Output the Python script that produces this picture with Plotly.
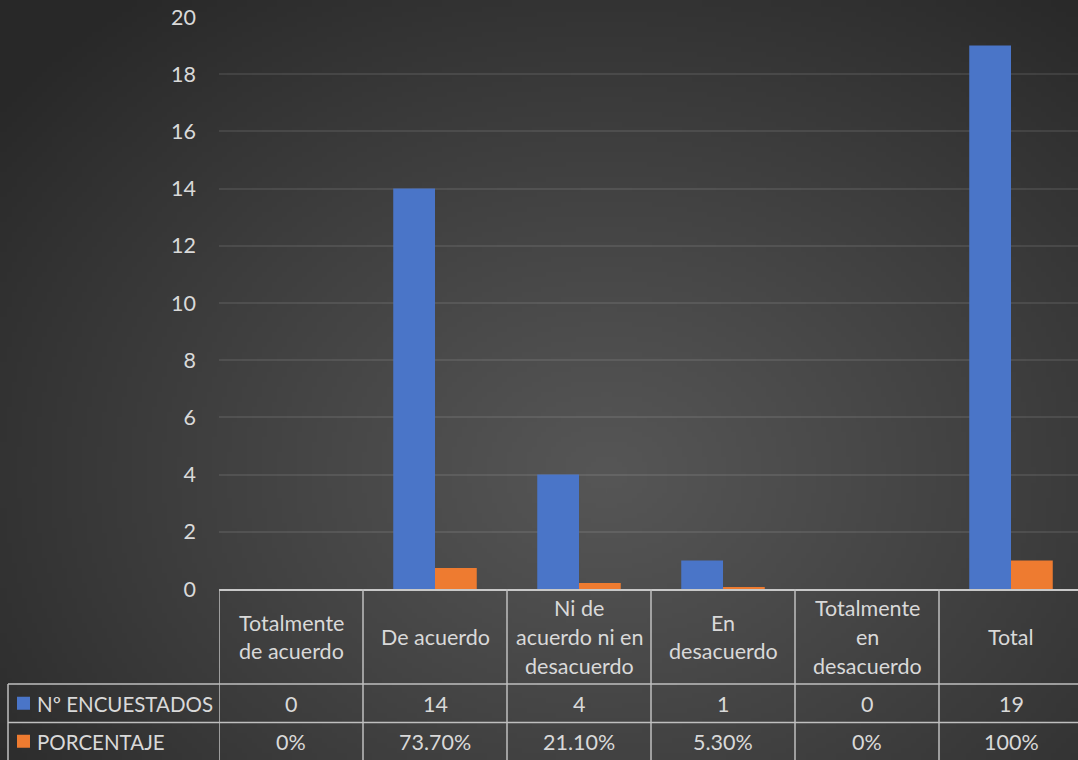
import base64, struct, zlib
import numpy as np
import plotly.graph_objects as go

# ---------------- data ----------------
categories = ["Totalmente<br>de acuerdo", "De acuerdo", "Ni de<br>acuerdo ni en<br>desacuerdo",
              "En<br>desacuerdo", "Totalmente<br>en<br>desacuerdo", "Total"]
encuestados = [0, 14, 4, 1, 0, 19]
porcentaje = [0.0, 0.737, 0.211, 0.053, 0.0, 1.0]
pct_labels = ["0%", "73.70%", "21.10%", "5.30%", "0%", "100%"]
series_names = ["Nº ENCUESTADOS", "PORCENTAJE"]
y_ticks = [0, 2, 4, 6, 8, 10, 12, 14, 16, 18, 20]

# ---------------- layout constants ----------------
W, H = 1078, 760
ML, MR, MT, MB = 219, 0, 17, 171
PW, PH = W - ML - MR, H - MT - MB
BLUE, ORANGE = "#4a75c8", "#ee7b30"
TXT = "#d9d9d9"
LINE = "#bfbfbf"
FONT = "Lato"
FS = 21.5
FS_LEG = 20.5

# radial gradient background as small PNG
def make_png(w, h):
    ys, xs = np.mgrid[0:h, 0:w]
    cx, cy = w * 0.56, h * 0.62
    d = np.sqrt(((xs - cx) / w) ** 2 + ((ys - cy) / h) ** 2 * 0.8)
    d = np.clip(d / 0.72, 0, 1)
    v = 86 - (86 - 40) * d ** 1.1
    img = np.clip(v, 0, 255).astype(np.uint8)
    raw = b"".join(b"\x00" + bytes(np.repeat(img[r][:, None], 3, axis=1).flatten()) for r in range(h))
    def chunk(t, data):
        c = struct.pack(">I", len(data)) + t + data
        return c + struct.pack(">I", zlib.crc32(t + data) & 0xffffffff)
    png = b"\x89PNG\r\n\x1a\n" + chunk(b"IHDR", struct.pack(">IIBBBBB", w, h, 8, 2, 0, 0, 0)) \
        + chunk(b"IDAT", zlib.compress(raw, 9)) + chunk(b"IEND", b"")
    return "data:image/png;base64," + base64.b64encode(png).decode()

bg = make_png(216, 152)

x_idx = list(range(len(categories)))
fig = go.Figure()
fig.add_trace(go.Bar(x=x_idx, y=encuestados, name=series_names[0], marker=dict(color=BLUE, line=dict(width=0))))
fig.add_trace(go.Bar(x=x_idx, y=porcentaje, name=series_names[1], marker=dict(color=ORANGE, line=dict(width=0))))

col_w = 144.0
x_end = -0.5 + PW / col_w

def px_x(p):  # pixel x -> paper
    return (p - ML) / PW

def px_y(p):  # pixel y (from top) -> paper
    return (H - MB - p) / PH

shapes = []
annotations = []
line = dict(color=LINE, width=1.5)
y_top, y_hdr, y_r1, y_r2 = 589, 684, 722.5, 761
# horizontal table lines
shapes.append(dict(type="line", xref="paper", yref="paper", x0=px_x(8), x1=1, y0=px_y(y_hdr), y1=px_y(y_hdr), line=line))
shapes.append(dict(type="line", xref="paper", yref="paper", x0=px_x(8), x1=1, y0=px_y(y_r1), y1=px_y(y_r1), line=line))
# left border of legend column
shapes.append(dict(type="line", xref="paper", yref="paper", x0=px_x(8), x1=px_x(8), y0=px_y(y_hdr), y1=px_y(y_r2), line=line))
# vertical column lines
for i in range(len(categories)):
    xb = i - 0.5
    shapes.append(dict(type="line", xref="x", yref="paper", x0=xb, x1=xb, y0=px_y(y_top), y1=px_y(y_r2), line=line))

# header text (each line separately for Excel-like spacing)
hdr_center = (y_top + y_hdr) / 2 + 0.5
lh = 29
for i, cat in enumerate(categories):
    parts = cat.split("<br>")
    n = len(parts)
    for k, p in enumerate(parts):
        yc = hdr_center + (k - (n - 1) / 2) * lh
        annotations.append(dict(x=i, y=px_y(yc), xref="x", yref="paper", text=p, showarrow=False,
                                font=dict(size=FS, color=TXT, family=FONT), xanchor="center", yanchor="middle"))
    annotations.append(dict(x=i, y=px_y((y_hdr + y_r1) / 2 + 0.5), xref="x", yref="paper", text=str(encuestados[i]),
                            showarrow=False, font=dict(size=FS, color=TXT, family=FONT), xanchor="center", yanchor="middle"))
    annotations.append(dict(x=i, y=px_y((y_r1 + 760) / 2 + 0.5), xref="x", yref="paper", text=pct_labels[i],
                            showarrow=False, font=dict(size=FS, color=TXT, family=FONT), xanchor="center", yanchor="middle"))

# legend keys in table
for name, col, (ya, yb) in zip(series_names, [BLUE, ORANGE], [(y_hdr, y_r1), (y_r1, 760)]):
    yc = (ya + yb) / 2
    shapes.append(dict(type="rect", xref="paper", yref="paper", x0=px_x(17), x1=px_x(30), y0=px_y(yc + 6.5), y1=px_y(yc - 6.5),
                       fillcolor=col, line=dict(width=0)))
    annotations.append(dict(x=px_x(35), y=px_y(yc + 0.5), xref="paper", yref="paper", text=name, showarrow=False,
                            font=dict(size=FS_LEG, color=TXT, family=FONT), xanchor="left", yanchor="middle"))

fig.update_layout(
    width=W, height=H,
    margin=dict(l=ML, r=MR, t=MT, b=MB, pad=0),
    paper_bgcolor="#333333", plot_bgcolor="rgba(0,0,0,0)",
    barmode="group", bargap=0.42, bargroupgap=0,
    showlegend=False,
    font=dict(family=FONT, color=TXT),
    xaxis=dict(range=[-0.5, x_end], showticklabels=False, showgrid=False, zeroline=False,
               showline=True, linecolor="#c8c8c8", linewidth=2, ticks="", fixedrange=True),
    yaxis=dict(range=[0, 20], tickvals=y_ticks, showgrid=True, gridcolor="rgba(255,255,255,0.09)", gridwidth=1.5,
               zeroline=False, showline=False, ticks="", ticklabelstandoff=22,
               tickfont=dict(size=FS, color=TXT, family=FONT)),
    shapes=shapes, annotations=annotations,
    images=[dict(source=bg, xref="paper", yref="paper", x=-ML / PW, y=1 + MT / PH,
                 sizex=W / PW, sizey=H / PH, sizing="stretch", xanchor="left", yanchor="top", layer="below")],
)

fig.write_html("out.html", config={"displayModeBar": False},
               post_script="document.body.style.margin='0';document.body.style.overflow='hidden';")
